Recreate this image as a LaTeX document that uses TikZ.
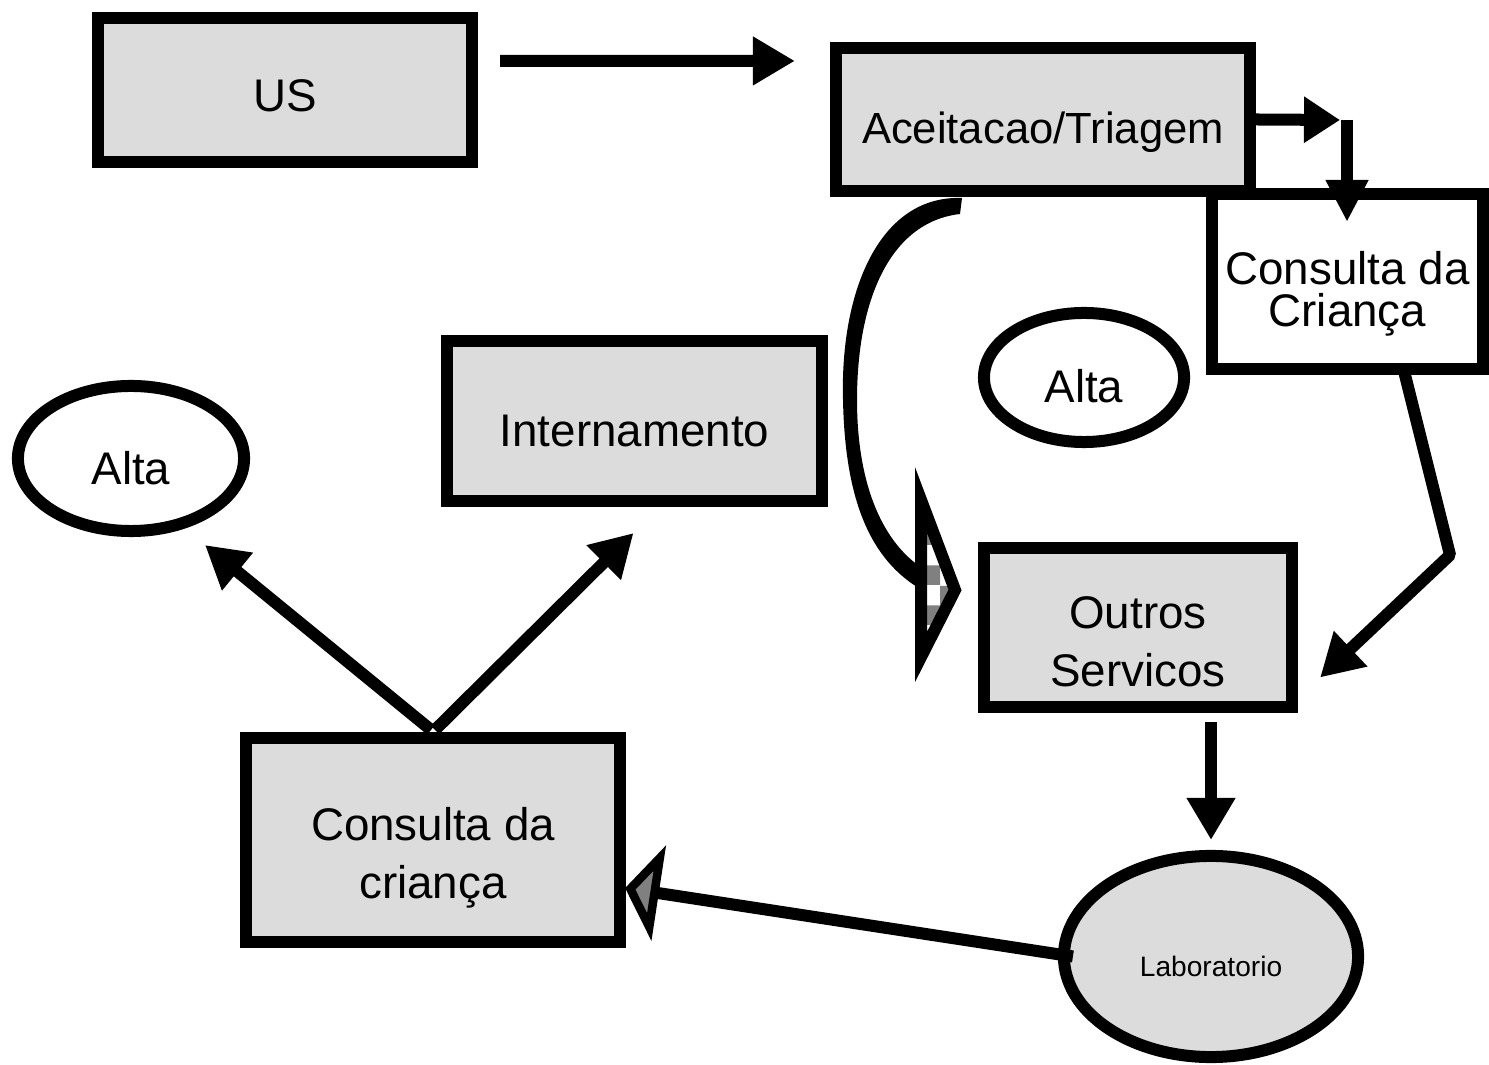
\documentclass[tikz,border=0pt]{standalone}
\usepackage{fontspec}
\setmainfont{Liberation Sans}
\usetikzlibrary{arrows.meta,shapes.geometric,patterns}
\definecolor{boxgray}{RGB}{220,220,220}
\newcommand{\lifttext}[1]{\rule{0pt}{#1}}
\tikzset{
  box/.style={draw,line width=0.12cm,fill=boxgray,inner sep=0pt,align=center},
  oval/.style={ellipse,draw,line width=0.12cm,inner sep=0pt},
  flow/.style={line width=0.12cm,-{Triangle[length=0.42cm,width=0.46cm]}},
}
\begin{document}
\begin{tikzpicture}[x=0.01cm,y=-0.01cm,font=\fontsize{13}{16.5}\selectfont]
\useasboundingbox (0,0) rectangle (1489,1065);
% boxes
\node[box,minimum width=3.74cm,minimum height=1.44cm] (US) at (285,90) {\lifttext{0.44cm}US};
\node[box,minimum width=4.14cm,minimum height=1.43cm,font=\fontsize{12.4}{15}\selectfont] (Aceitacao) at (1043,119.5) {\lifttext{0.58cm}Aceitacao/Triagem};
\node[box,fill=white,minimum width=2.71cm,minimum height=1.75cm,font=\fontsize{13}{12}\selectfont] (ConsultaA) at (1347.5,281.5) {\lifttext{0.58cm}Consulta da\\Criança};
\node[oval,minimum width=2.00cm,minimum height=1.29cm] (AltaA) at (1084,377.5) {\lifttext{0.50cm}Alta};
\node[box,minimum width=3.75cm,minimum height=1.60cm] (Internamento) at (634.5,421) {\lifttext{0.52cm}Internamento};
\node[oval,minimum width=2.26cm,minimum height=1.45cm] (AltaB) at (131,458.5) {\lifttext{0.52cm}Alta};
\node[box,minimum width=3.08cm,minimum height=1.59cm] (Outros) at (1138,627.5) {\lifttext{0.60cm}Outros\\Servicos};
\node[box,minimum width=3.74cm,minimum height=2.04cm] (ConsultaB) at (433,840) {\lifttext{0.68cm}Consulta da\\criança};
\node[oval,fill=boxgray,minimum width=2.94cm,minimum height=2.01cm,font=\fontsize{8}{10}\selectfont] (Lab) at (1211,956.5) {\lifttext{0.40cm}Laboratorio};
% connectors
\draw[flow] ([shift={(22,49)}]US.north east) -- ([shift={(-35,19)}]Aceitacao.north west);
\coordinate (elbow) at (1347,120);
\draw[line width=0.12cm,-{Triangle[length=0.36cm,width=0.44cm]}] (Aceitacao.east) -- ([shift={(-7,0)}]elbow);
\draw[line width=0.12cm,-{Triangle[length=0.42cm,width=0.40cm]}] (elbow) -- ([shift={(0,34)}]ConsultaA.north -| elbow);
\coordinate (knee) at (1450,555);
\draw[flow,line join=bevel] ([shift={(56,-6)}]ConsultaA.south) -- (knee) -- ([shift={(22,50)}]Outros.east);
\draw[flow] ([shift={(73,9)}]Outros.south) -- ([shift={(0,-10)}]Lab.north);
\draw[line width=0.12cm,-{Triangle[length=0.34cm,width=0.95cm,line width=0.1cm,fill=gray]}] ([shift={(15,0)}]Lab.west) -- ([shift={(-1,48)}]ConsultaB.east);
\draw[flow] ([shift={(-2,-2)}]ConsultaB.north) -- ([shift={(74,8)}]AltaB.south);
\draw[flow] ([shift={(2,-2)}]ConsultaB.north) -- ([shift={(-1,26)}]Internamento.south);
% curved arrow
\fill (962,198) .. controls (880,195) and (840,290) .. (843,400)
  .. controls (845,500) and (870,560) .. (922,590) -- (922,568)
  .. controls (880,540) and (857,480) .. (857,400)
  .. controls (857,300) and (890,222) .. (960,214) -- cycle;
\draw[line width=0.12cm,line join=miter,pattern=checkerboard,pattern color=gray]
  (921,500) -- (955,590) -- (921,657) -- cycle;
\end{tikzpicture}
\end{document}
